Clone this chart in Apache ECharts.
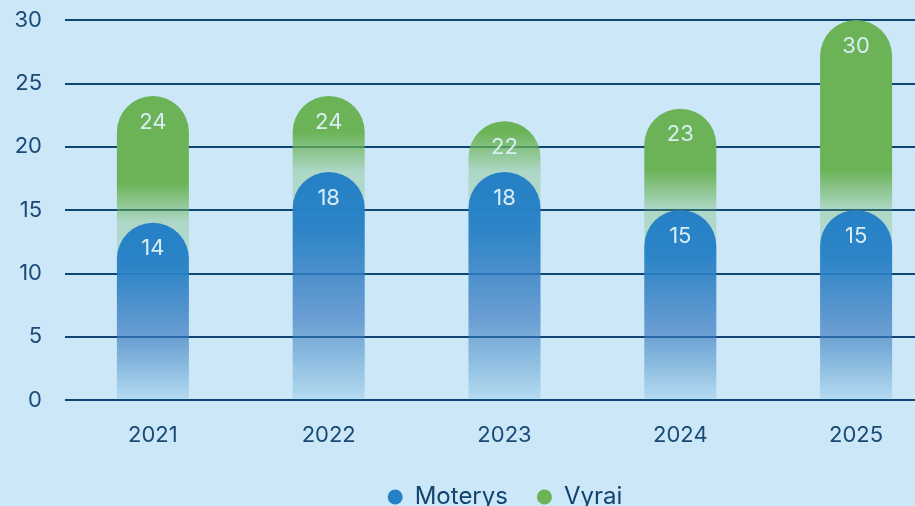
<!DOCTYPE html>
<html>
<head>
<meta charset="utf-8">
<script src="https://cdn.jsdelivr.net/npm/echarts@6/dist/echarts.min.js"></script>
<style>
html,body{margin:0;padding:0;background:#cbe7f8;overflow:hidden;width:915px;height:506px;}
#chart{width:1010px;height:506px;}
</style>
</head>
<body>
<div id="chart"></div>
<script>
const categories = ['2021', '2022', '2023', '2024', '2025'];
const moterys = [14, 18, 18, 15, 15];
const vyrai = [24, 24, 22, 23, 30];
const seriesNames = ['Moterys', 'Vyrai'];

const FONT = 'Inter, "Noto Sans", sans-serif';
const GREEN = '107,179,86';
const BLUE = '37,128,198';

function greenGradient(v, m) {
  const fTop = Math.max(0, (v - m - 3.2) / v);
  const fBlue = Math.min(1, (v - m) / v);
  return {
    type: 'linear', x: 0, y: 0, x2: 0, y2: 1,
    colorStops: [
      { offset: 0, color: 'rgba(' + GREEN + ',1)' },
      { offset: fTop, color: 'rgba(' + GREEN + ',1)' },
      { offset: fBlue, color: 'rgba(' + GREEN + ',0.3)' },
      { offset: 1, color: 'rgba(' + GREEN + ',0)' }
    ]
  };
}
const blueGradient = {
  type: 'linear', x: 0, y: 0, x2: 0, y2: 1,
  colorStops: [
    { offset: 0, color: 'rgba(' + BLUE + ',1)' },
    { offset: 0.25, color: 'rgba(' + BLUE + ',0.95)' },
    { offset: 0.65, color: 'rgba(55,118,200,0.62)' },
    { offset: 1, color: 'rgba(' + BLUE + ',0.12)' }
  ]
};

const chart = echarts.init(document.getElementById('chart'));
chart.setOption({
  backgroundColor: '#cbe7f8',
  animation: false,
  textStyle: { fontFamily: FONT },
  grid: { left: 65, right: 66, top: 20, height: 380, containLabel: false },
  legend: {
    data: [
      { name: 'Moterys', itemStyle: { color: 'rgb(' + BLUE + ')' } },
      { name: 'Vyrai', itemStyle: { color: 'rgb(' + GREEN + ')' } }
    ],
    left: 'center', top: 480,
    icon: 'circle',
    itemWidth: 29, itemHeight: 15,
    itemGap: 29,
    textStyle: { fontSize: 24, color: '#12426e', fontFamily: FONT }
  },
  xAxis: {
    type: 'category',
    data: categories,
    axisLine: { show: false },
    axisTick: { show: false },
    axisLabel: { fontSize: 22, color: '#1a4a75', margin: 24, fontFamily: FONT }
  },
  yAxis: {
    type: 'value',
    min: 0, max: 30, interval: 5,
    axisLine: { show: false },
    axisTick: { show: false },
    axisLabel: { fontSize: 22, color: '#1a4a75', margin: 23, fontFamily: FONT },
    splitLine: { lineStyle: { color: '#0e4676', width: 2 } }
  },
  series: [
    {
      name: 'Vyrai',
      type: 'bar',
      barWidth: 72,
      barGap: '-100%',
      z: 2,
      data: vyrai.map((v, i) => ({
        value: v,
        itemStyle: { color: greenGradient(v, moterys[i]) }
      })),
      itemStyle: { borderRadius: [36, 36, 0, 0] },
      label: {
        show: true, position: 'insideTop', distance: 15,
        fontSize: 22, color: '#d9edf5', fontFamily: FONT
      }
    },
    {
      name: 'Moterys',
      type: 'bar',
      barWidth: 72,
      barGap: '-100%',
      z: 3,
      data: moterys,
      itemStyle: { borderRadius: [36, 36, 0, 0], color: blueGradient },
      label: {
        show: true, position: 'insideTop', distance: 15,
        fontSize: 22, color: '#d9edf5', fontFamily: FONT
      }
    }
  ]
});
</script>
</body>
</html>
